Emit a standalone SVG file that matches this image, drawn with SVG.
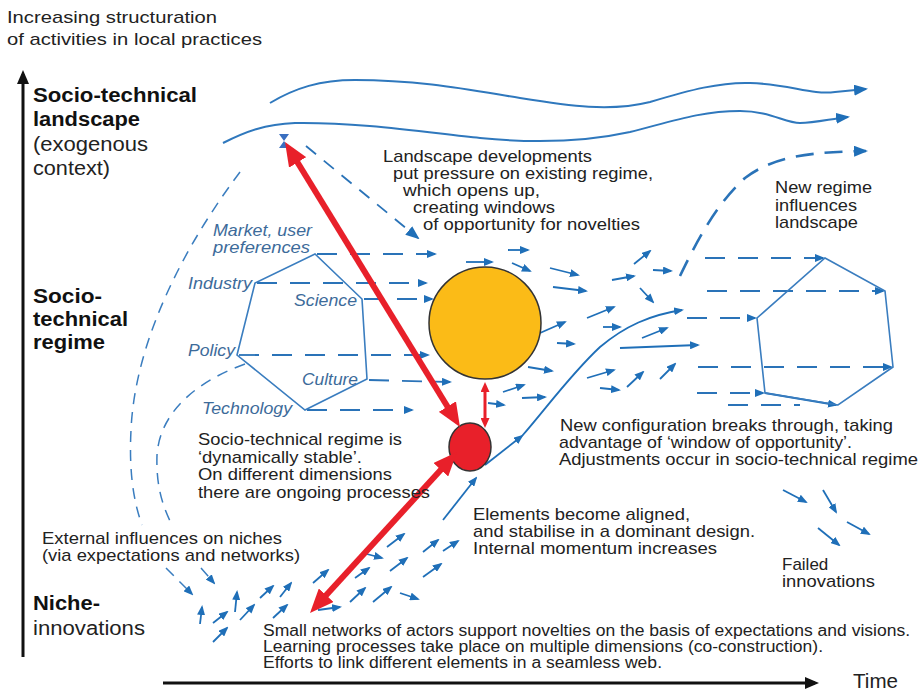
<svg xmlns="http://www.w3.org/2000/svg" width="922" height="692" viewBox="0 0 922 692">
<defs>
<style>
.t{font-family:"Liberation Sans",Arial,sans-serif;font-size:17px;fill:#222}
.b{font-weight:bold;font-size:20px;fill:#111}
.l{font-size:20px}
.i{font-style:italic;font-size:17px;fill:#3d6b9a}
.sa{stroke:#1f6fb8;stroke-width:1.8;fill:none;marker-end:url(#ab)}
.hx{stroke:#3a7dbf;stroke-width:1.6;fill:none}
.dl{stroke:#2a73b8;stroke-width:1.8;stroke-dasharray:20 13;fill:none;marker-end:url(#ab)}
.arc{stroke:#3a7dbf;stroke-width:1.5;stroke-dasharray:11 8;fill:none}
.wave{stroke:#2f78bd;stroke-width:2;fill:none;marker-end:url(#abL)}
.red{stroke:#e8202a;stroke-width:6;fill:none;marker-start:url(#ar);marker-end:url(#ar)}
.ax{stroke:#111;stroke-width:3;fill:none;marker-end:url(#ak)}
</style>
<marker id="ab" viewBox="0 0 10 8" refX="8" refY="4" markerWidth="10" markerHeight="8" markerUnits="userSpaceOnUse" orient="auto"><path d="M0,0 L10,4 L0,8 z" fill="#1f6fb8"/></marker>
<marker id="abL" viewBox="0 0 14 11" refX="12" refY="5.5" markerWidth="14" markerHeight="11" markerUnits="userSpaceOnUse" orient="auto"><path d="M0,0 L14,5.5 L0,11 z" fill="#1f6fb8"/></marker>
<marker id="ar" viewBox="0 0 24 20" refX="12" refY="10" markerWidth="24" markerHeight="20" markerUnits="userSpaceOnUse" orient="auto-start-reverse"><path d="M0,0 L24,10 L0,20 z" fill="#e8202a"/></marker>
<marker id="ars" viewBox="0 0 10 9" refX="5" refY="4.5" markerWidth="10" markerHeight="9" markerUnits="userSpaceOnUse" orient="auto-start-reverse"><path d="M0,0 L10,4.5 L0,9 z" fill="#e8202a"/></marker>
<marker id="ak" viewBox="0 0 14 12" refX="10" refY="6" markerWidth="14" markerHeight="12" markerUnits="userSpaceOnUse" orient="auto"><path d="M0,0 L14,6 L0,12 z" fill="#111"/></marker>
</defs>
<rect width="922" height="692" fill="#fff"/>

<g id="axes">
<line class="ax" x1="23" y1="657" x2="23" y2="74"/>
<line class="ax" x1="163" y1="683" x2="815" y2="683"/>
</g>

<g id="connectors">
<path class="wave" d="M270,103 C295,88 320,80 355,80 C420,80 470,90 520,98 C570,106 610,112 650,102 C690,90 720,82 750,83 C790,84 810,95 835,92 L866,89"/>
<path class="wave" d="M223,143 C245,132 265,124 295,123 C360,122 430,133 480,138 C530,143 580,143 630,132 C670,122 700,111 740,111 C770,111 785,123 800,123 C815,123 830,119 848,117"/>
<path d="M680,276 C695,245 715,205 745,178 C775,155 815,152 866,151" stroke="#2a73b8" stroke-width="2.6" stroke-dasharray="18 11" fill="none" marker-end="url(#abL)"/>
<path d="M306,146 L418,238" stroke="#2a73b8" stroke-width="1.8" stroke-dasharray="13 10" fill="none" marker-end="url(#abL)"/>
<path d="M279,134 L289,134 L284,141 L289,148 L279,148 L284,141 Z" fill="#3a6fc0"/>
<path class="arc" d="M240,172 C185,245 135,340 131,430 C129,470 133,500 142,525"/>
<path class="arc" d="M166,568 L192,594" marker-end="url(#ab)"/>
<path class="arc" d="M245,364 C200,380 160,410 157,455 C156,485 162,505 172,525"/>
<path class="arc" d="M201,568 L214,583" marker-end="url(#ab)"/>
<line class="dl" x1="317" y1="254" x2="435" y2="254"/>
<line class="dl" x1="257" y1="283" x2="426" y2="283"/>
<line class="dl" x1="364" y1="299" x2="432" y2="299"/>
<line class="dl" x1="239" y1="355" x2="428" y2="355"/>
<line class="dl" x1="369" y1="380" x2="450" y2="382"/>
<line class="dl" x1="307" y1="410" x2="412" y2="410"/>
<line class="dl" x1="705" y1="258" x2="823" y2="258"/>
<line class="dl" x1="707" y1="291" x2="883" y2="291"/>
<line class="dl" x1="687" y1="318" x2="755" y2="318"/>
<line class="dl" x1="698" y1="367" x2="891" y2="367"/>
<line class="dl" x1="697" y1="393" x2="763" y2="393"/>
<line x1="728" y1="405" x2="800" y2="405" stroke="#2a73b8" stroke-width="1.8" stroke-dasharray="20 13"/>
<line class="sa" x1="765" y1="393" x2="836" y2="405"/>
<line class="sa" x1="485" y1="465" x2="522" y2="436"/>
<path class="sa" d="M522,436 C545,410 570,375 600,347 C625,326 650,315 682,310" marker-end="url(#abL)"/>
<line class="sa" x1="620" y1="348" x2="698" y2="345" marker-end="url(#abL)"/>
<line class="sa" x1="508" y1="250" x2="528" y2="250"/>
<line class="sa" x1="466" y1="262" x2="492" y2="262"/>
<line class="sa" x1="512" y1="263" x2="530" y2="271"/>
<line class="sa" x1="550" y1="268" x2="578" y2="275"/>
<line class="sa" x1="553" y1="287" x2="586" y2="291"/>
<line class="sa" x1="612" y1="280" x2="634" y2="276"/>
<line class="sa" x1="634" y1="264" x2="650" y2="251"/>
<line class="sa" x1="653" y1="270" x2="671" y2="271"/>
<line class="sa" x1="640" y1="288" x2="653" y2="302"/>
<line class="sa" x1="587" y1="318" x2="614" y2="307"/>
<line class="sa" x1="603" y1="327" x2="620" y2="327"/>
<line class="sa" x1="540" y1="333" x2="565" y2="322"/>
<line class="sa" x1="557" y1="343" x2="574" y2="344"/>
<line class="sa" x1="642" y1="338" x2="667" y2="328"/>
<line class="sa" x1="528" y1="367" x2="552" y2="371"/>
<line class="sa" x1="587" y1="378" x2="614" y2="370"/>
<line class="sa" x1="600" y1="388" x2="619" y2="390"/>
<line class="sa" x1="627" y1="387" x2="643" y2="372"/>
<line class="sa" x1="660" y1="379" x2="675" y2="364"/>
<line class="sa" x1="503" y1="392" x2="524" y2="385"/>
<line class="sa" x1="522" y1="398" x2="545" y2="397"/>
<line class="sa" x1="488" y1="403" x2="504" y2="405"/>
<line class="sa" x1="443" y1="520" x2="476" y2="478"/>
<line class="sa" x1="387" y1="547" x2="404" y2="534"/>
<line class="sa" x1="423" y1="552" x2="438" y2="540"/>
<line class="sa" x1="443" y1="551" x2="458" y2="541"/>
<line class="sa" x1="363" y1="553" x2="382" y2="558"/>
<line class="sa" x1="390" y1="571" x2="407" y2="558"/>
<line class="sa" x1="423" y1="577" x2="441" y2="564"/>
<line class="sa" x1="355" y1="578" x2="369" y2="568"/>
<line class="sa" x1="313" y1="583" x2="328" y2="570"/>
<line class="sa" x1="350" y1="602" x2="365" y2="588"/>
<line class="sa" x1="373" y1="602" x2="391" y2="587"/>
<line class="sa" x1="400" y1="593" x2="418" y2="599"/>
<line class="sa" x1="280" y1="597" x2="291" y2="583"/>
<line class="sa" x1="260" y1="598" x2="273" y2="586"/>
<line class="sa" x1="235" y1="612" x2="237" y2="592"/>
<line class="sa" x1="240" y1="620" x2="254" y2="605"/>
<line class="sa" x1="213" y1="623" x2="227" y2="612"/>
<line class="sa" x1="213" y1="642" x2="227" y2="628"/>
<line class="sa" x1="200" y1="624" x2="202" y2="607"/>
<line class="sa" x1="273" y1="618" x2="287" y2="605"/>
<line class="sa" x1="318" y1="610" x2="340" y2="607"/>
<line class="sa" x1="783" y1="490" x2="806" y2="502"/>
<line class="sa" x1="823" y1="490" x2="836" y2="512"/>
<line class="sa" x1="847" y1="522" x2="869" y2="534"/>
<line class="sa" x1="818" y1="528" x2="839" y2="545"/>
</g>

<g id="regime-hexagon">
<path class="hx" d="M315,254 L255,283 L237,355 L305,410 L367,379 L362,299 Z"/>
<text class="t i" x="213" y="236" textLength="99" lengthAdjust="spacingAndGlyphs">Market, user</text>
<text class="t i" x="213" y="253" textLength="97" lengthAdjust="spacingAndGlyphs">preferences</text>
<text class="t i" x="188" y="289" textLength="64" lengthAdjust="spacingAndGlyphs">Industry</text>
<text class="t i" x="294" y="306" textLength="63" lengthAdjust="spacingAndGlyphs">Science</text>
<text class="t i" x="188" y="356" textLength="47" lengthAdjust="spacingAndGlyphs">Policy</text>
<text class="t i" x="302" y="385" textLength="56" lengthAdjust="spacingAndGlyphs">Culture</text>
<text class="t i" x="202" y="414" textLength="90" lengthAdjust="spacingAndGlyphs">Technology</text>
</g>

<g id="new-regime-hexagon">
<path class="hx" d="M825,258 L885,291 L893,367 L838,405 L765,393 L757,318 Z"/>
</g>

<g id="window">
<circle cx="485" cy="323" r="56" fill="#fbbb17" stroke="#333" stroke-width="1.5"/>
</g>
<g id="niche-node">
<ellipse cx="470" cy="447" rx="21" ry="24" fill="#e8202a" stroke="#333" stroke-width="1.5"/>
</g>

<g id="red-arrows">
<line class="red" x1="291.3" y1="152.2" x2="453.7" y2="416.8"/>
<line class="red" x1="448.9" y1="460.9" x2="318.1" y2="604.1"/>
<line x1="485" y1="387" x2="485" y2="423" stroke="#e8202a" stroke-width="3" marker-start="url(#ars)" marker-end="url(#ars)"/>
</g>

<g id="labels">
<text class="t" x="7" y="23" textLength="210" lengthAdjust="spacingAndGlyphs">Increasing structuration</text>
<text class="t" x="7" y="45" textLength="255" lengthAdjust="spacingAndGlyphs">of activities in local practices</text>
<text class="t b" x="33" y="102" textLength="164" lengthAdjust="spacingAndGlyphs">Socio-technical</text>
<text class="t b" x="33" y="126" textLength="107" lengthAdjust="spacingAndGlyphs">landscape</text>
<text class="t l" x="33" y="151" textLength="115" lengthAdjust="spacingAndGlyphs">(exogenous</text>
<text class="t l" x="33" y="175" textLength="77" lengthAdjust="spacingAndGlyphs">context)</text>
<text class="t b" x="33" y="303" textLength="69" lengthAdjust="spacingAndGlyphs">Socio-</text>
<text class="t b" x="33" y="326" textLength="95" lengthAdjust="spacingAndGlyphs">technical</text>
<text class="t b" x="33" y="349" textLength="72" lengthAdjust="spacingAndGlyphs">regime</text>
<text class="t b" x="33" y="610" textLength="67" lengthAdjust="spacingAndGlyphs">Niche-</text>
<text class="t l" x="33" y="635" textLength="112" lengthAdjust="spacingAndGlyphs">innovations</text>

<text class="t" x="383" y="162" textLength="209" lengthAdjust="spacingAndGlyphs">Landscape developments</text>
<text class="t" x="393" y="179" textLength="260" lengthAdjust="spacingAndGlyphs">put pressure on existing regime,</text>
<text class="t" x="403" y="196" textLength="137" lengthAdjust="spacingAndGlyphs">which opens up,</text>
<text class="t" x="413" y="213" textLength="142" lengthAdjust="spacingAndGlyphs">creating windows</text>
<text class="t" x="423" y="230" textLength="217" lengthAdjust="spacingAndGlyphs">of opportunity for novelties</text>

<text class="t" x="775" y="193" textLength="97" lengthAdjust="spacingAndGlyphs">New regime</text>
<text class="t" x="775" y="211" textLength="82" lengthAdjust="spacingAndGlyphs">influences</text>
<text class="t" x="775" y="228" textLength="83" lengthAdjust="spacingAndGlyphs">landscape</text>

<text class="t" x="198" y="445" textLength="204" lengthAdjust="spacingAndGlyphs">Socio-technical regime is</text>
<text class="t" x="198" y="463" textLength="164" lengthAdjust="spacingAndGlyphs">‘dynamically stable’.</text>
<text class="t" x="198" y="480" textLength="194" lengthAdjust="spacingAndGlyphs">On different dimensions</text>
<text class="t" x="198" y="498" textLength="232" lengthAdjust="spacingAndGlyphs">there are ongoing processes</text>

<text class="t" x="560" y="431" textLength="333" lengthAdjust="spacingAndGlyphs">New configuration breaks through, taking</text>
<text class="t" x="559" y="448" textLength="293" lengthAdjust="spacingAndGlyphs">advantage of ‘window of opportunity’.</text>
<text class="t" x="559" y="465" textLength="359" lengthAdjust="spacingAndGlyphs">Adjustments occur in socio-technical regime</text>

<text class="t" x="473" y="520" textLength="217" lengthAdjust="spacingAndGlyphs">Elements become aligned,</text>
<text class="t" x="473" y="537" textLength="282" lengthAdjust="spacingAndGlyphs">and stabilise in a dominant design.</text>
<text class="t" x="473" y="554" textLength="244" lengthAdjust="spacingAndGlyphs">Internal momentum increases</text>

<text class="t" x="42" y="544" textLength="240" lengthAdjust="spacingAndGlyphs">External influences on niches</text>
<text class="t" x="42" y="561" textLength="258" lengthAdjust="spacingAndGlyphs">(via expectations and networks)</text>

<text class="t" x="782" y="570">Failed</text>
<text class="t" x="782" y="587" textLength="93" lengthAdjust="spacingAndGlyphs">innovations</text>

<text class="t" x="263" y="636" style="font-size:16px" textLength="647" lengthAdjust="spacingAndGlyphs">Small networks of actors support novelties on the basis of expectations and visions.</text>
<text class="t" x="263" y="652" style="font-size:16px" textLength="560" lengthAdjust="spacingAndGlyphs">Learning processes take place on multiple dimensions (co-construction).</text>
<text class="t" x="263" y="668" style="font-size:16px" textLength="399" lengthAdjust="spacingAndGlyphs">Efforts to link different elements in a seamless web.</text>

<text class="t l" x="853" y="688" textLength="45" lengthAdjust="spacingAndGlyphs">Time</text>
</g>
</svg>
